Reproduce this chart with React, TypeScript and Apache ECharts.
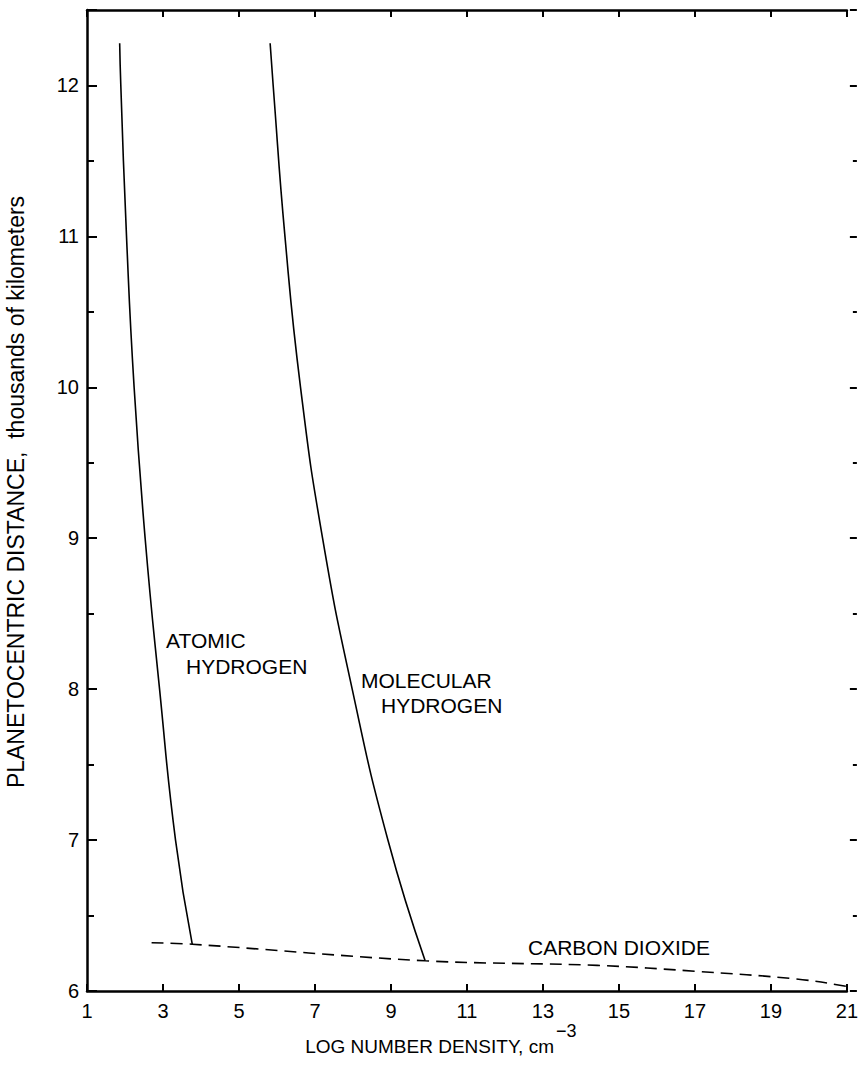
import React, { useEffect, useRef } from "react";
import * as echarts from "echarts";

const atomicHydrogen: [number, number][] = [
  [1.86, 12.28], [1.89, 12.0], [2.04, 11.0], [2.24, 10.0], [2.53, 9.0],
  [2.91, 8.0], [3.33, 7.0], [3.77, 6.31],
];
const molecularHydrogen: [number, number][] = [
  [5.82, 12.28], [5.9, 12.0], [6.21, 11.0], [6.62, 10.0], [7.2, 9.0],
  [7.98, 8.0], [8.92, 7.0], [9.9, 6.2],
];
const carbonDioxide: [number, number][] = [
  [2.7, 6.32], [3.77, 6.31], [9.9, 6.2], [14.43, 6.17], [17.05, 6.13],
  [19.66, 6.08], [21.0, 6.03], [21.2, 6.01],
];

const FONT = "Liberation Sans";

export default function App() {
  const ref = useRef<HTMLDivElement>(null);
  useEffect(() => {
    if (!ref.current) return;
    const chart = echarts.init(ref.current, null, { renderer: "svg" });
    const lineStyle = { color: "#000", width: 1.6 };
    chart.setOption({
      animation: false,
      backgroundColor: "#fff",
      grid: { left: 87, right: 10, top: 10, bottom: 74, containLabel: false },
      xAxis: [
        {
          type: "value",
          position: "bottom",
          min: 1,
          max: 21,
          interval: 2,
          axisLine: { show: true, lineStyle: { color: "#000", width: 2.5 } },
          axisTick: { show: true, inside: true, length: 7, lineStyle: { color: "#000", width: 2 } },
          axisLabel: { color: "#000", fontSize: 20, fontFamily: FONT, margin: 10 },
          splitLine: { show: false },
        },
        {
          type: "value",
          position: "top",
          min: 1,
          max: 21,
          interval: 2,
          axisLine: { show: true, lineStyle: { color: "#000", width: 2.5 } },
          axisTick: { show: true, inside: true, length: 7, lineStyle: { color: "#000", width: 2 } },
          axisLabel: { show: false },
          splitLine: { show: false },
        },
      ],
      yAxis: [
        {
          type: "value",
          position: "left",
          min: 6,
          max: 12.5,
          interval: 1,
          axisLine: { show: true, lineStyle: { color: "#000", width: 2.5 } },
          axisTick: { show: true, inside: true, length: 10, lineStyle: { color: "#000", width: 2 } },
          minorTick: { show: true, splitNumber: 2, length: 7, lineStyle: { color: "#000", width: 2 } },
          axisLabel: { color: "#000", fontSize: 20, fontFamily: FONT, margin: 8, showMaxLabel: false },
          splitLine: { show: false },
          minorSplitLine: { show: false },
        },
        {
          type: "value",
          position: "right",
          offset: 10,
          min: 6,
          max: 12.5,
          interval: 1,
          axisLine: { show: false },
          axisTick: { show: true, inside: true, length: 7, lineStyle: { color: "#000", width: 2 } },
          minorTick: { show: true, splitNumber: 2, length: 4, lineStyle: { color: "#000", width: 2 } },
          axisLabel: { show: false },
          splitLine: { show: false },
          minorSplitLine: { show: false },
        },
      ],
      series: [
        {
          name: "Atomic hydrogen",
          type: "line",
          data: atomicHydrogen,
          smooth: 0.5,
          showSymbol: false,
          symbol: "none",
          lineStyle,
          z: 3,
        },
        {
          name: "Molecular hydrogen",
          type: "line",
          data: molecularHydrogen,
          smooth: 0.5,
          showSymbol: false,
          symbol: "none",
          lineStyle,
          z: 3,
        },
        {
          name: "Carbon dioxide",
          type: "line",
          data: carbonDioxide,
          smooth: 0.35,
          showSymbol: false,
          symbol: "none",
          clip: false,
          lineStyle: { color: "#000", width: 1.6, type: [12, 7] },
          z: 3,
        },
      ],
      graphic: [
        { type: "text", left: 166, top: 630, style: { text: "ATOMIC", font: `21px "${FONT}"`, fill: "#000" } },
        { type: "text", left: 186, top: 656, style: { text: "HYDROGEN", font: `21px "${FONT}"`, fill: "#000" } },
        { type: "text", left: 361, top: 670, style: { text: "MOLECULAR", font: `21px "${FONT}"`, fill: "#000" } },
        { type: "text", left: 381, top: 695, style: { text: "HYDROGEN", font: `21px "${FONT}"`, fill: "#000" } },
        { type: "text", left: 528, top: 937, style: { text: "CARBON DIOXIDE", font: `21px "${FONT}"`, fill: "#000" } },
        {
          type: "text",
          x: 554,
          y: 1046,
          style: {
            text: "LOG NUMBER DENSITY, cm",
            font: `19px "${FONT}"`,
            fill: "#000",
            textAlign: "right",
            textVerticalAlign: "middle",
          },
        },
        {
          type: "text",
          x: 556,
          y: 1031,
          style: {
            text: "−3",
            font: `18px "${FONT}"`,
            fill: "#000",
            textAlign: "left",
            textVerticalAlign: "middle",
          },
        },
        {
          type: "text",
          x: 16,
          y: 492,
          rotation: Math.PI / 2,
          style: {
            text: "PLANETOCENTRIC DISTANCE,  thousands of kilometers",
            font: `23px "${FONT}"`,
            fill: "#000",
            textAlign: "center",
            textVerticalAlign: "middle",
          },
        },
      ],
    });
    return () => chart.dispose();
  }, []);
  return <div ref={ref} style={{ width: 861, height: 1065, position: "absolute", left: 0, top: 0 }} />;
}
